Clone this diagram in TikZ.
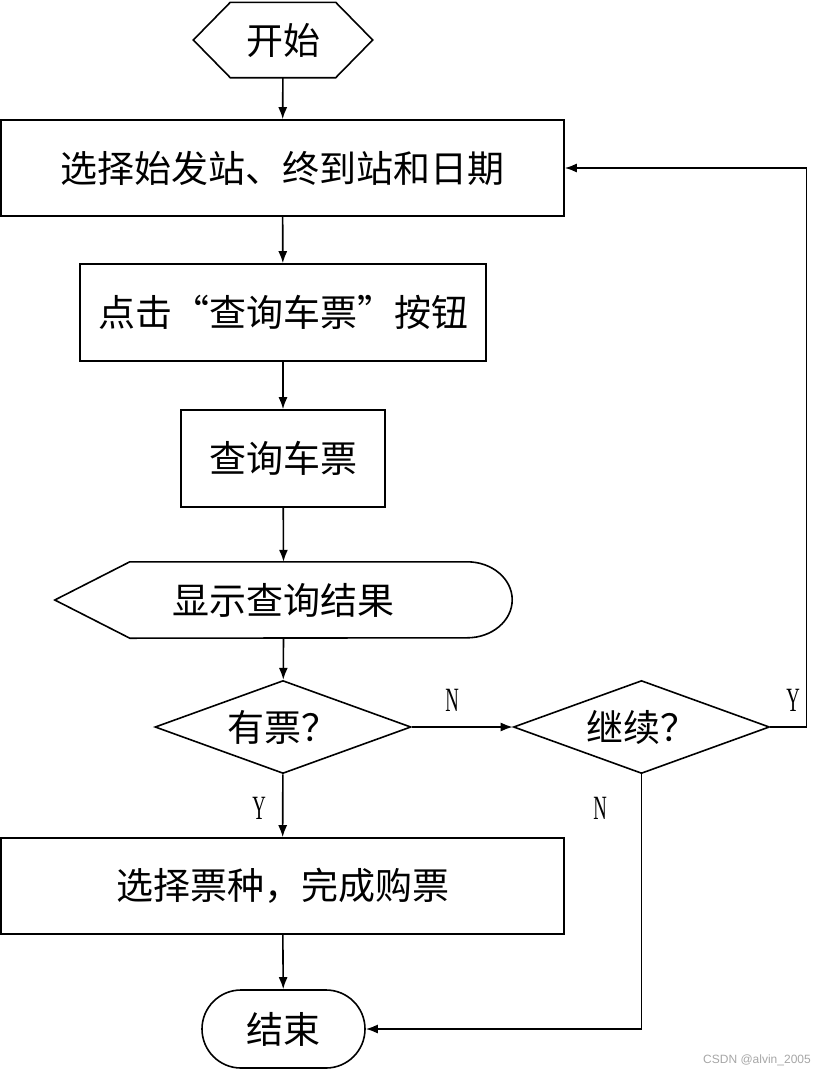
\documentclass[tikz,border=0pt]{standalone}
\usepackage{graphicx}
\usepackage{fontspec}
\setmainfont{Noto Sans CJK SC}
\newfontfamily\latinserif{Liberation Serif}
\newfontfamily\marksans{Liberation Sans}
\usetikzlibrary{arrows.meta, shapes.geometric, shapes.misc}

\begin{document}
\begin{tikzpicture}[x=1pt, y=-1pt,
    every node/.style={inner sep=0pt, font=\fontsize{37}{40}\selectfont},
    flowline/.style={line width=1.6pt},
    arr/.style={flowline, -{Latex[length=12pt, width=9pt]}},
    box/.style={draw, flowline, rectangle},
    decision/.style={draw, flowline, diamond, aspect=2.75, minimum width=256pt, minimum height=93pt},
    yn/.style={font=\latinserif\fontsize{34}{34}\selectfont}]
        \useasboundingbox (0, 0) rectangle (827, 1076);

        % start and input
        \node (start) at (283, 40) [minimum width=179pt, minimum height=75pt] {开始};
        \draw[flowline] (start.west) -- ([xshift=37pt]start.north west) -- ([xshift=-37pt]start.north east)
            -- (start.east) -- ([xshift=-37pt]start.south east) -- ([xshift=37pt]start.south west) -- cycle;
        \node[box, minimum width=563pt, minimum height=96pt] (select) at (282.5, 168) {选择始发站、终到站和日期};
        \node[box, minimum width=406pt, minimum height=97pt] (click) at (283, 312.5) {点击“查询车票”按钮};
        \node[box, minimum width=204pt, minimum height=97pt] (query) at (283, 458.5) {查询车票};

        % display
        \node (show) at (283.5, 600) [minimum width=457pt, minimum height=76pt] {显示查询结果};
        \draw[flowline] (show.west) -- ([xshift=75pt]show.north west) -- ([xshift=-45pt]show.north east)
            arc[start angle=90, end angle=-90, x radius=45pt, y radius=38pt]
            -- ([xshift=75pt]show.south west) -- cycle;

        % decisions
        \node[decision] (has) at (283, 727) {有票？};
        \node[decision] (again) at (641.5, 727) {继续？};
        \node[box, minimum width=563pt, minimum height=96pt] (buy) at (282.5, 886) {选择票种，完成购票};
        \node[draw, flowline, rounded rectangle, minimum width=163pt, minimum height=78pt] (stop) at (283.5, 1029) {结束};

        \draw[arr] (start) -- (select);
        \draw[arr] (select) -- (click);
        \draw[arr] (click) -- (query);
        \draw[arr] (query) -- (show.north);
        \draw[arr] (show.south) -- (has);
        \draw[arr] (has) -- (again);
        \draw[arr] (has) -- (buy);
        \draw[arr] (buy) -- (stop);
        \draw[arr] (again.east) -- ++(36, 0) |- (select.east);
        \draw[arr] (again.south) |- (stop.east);

        \node[yn] (hasno) at (452, 700) {\scalebox{0.55}[1]{N}};
        \node[yn] (hasyes) at (259, 808) {\scalebox{0.55}[1]{Y}};
        \node[yn] (againyes) at (793, 700) {\scalebox{0.55}[1]{Y}};
        \node[yn] (againno) at (600, 808) {\scalebox{0.55}[1]{N}};

        \node[anchor=east, text=black!35, font=\marksans\fontsize{12}{12}\selectfont] (mark) at (811, 1060) {CSDN @alvin\_2005};
    \end{tikzpicture}
\end{document}
